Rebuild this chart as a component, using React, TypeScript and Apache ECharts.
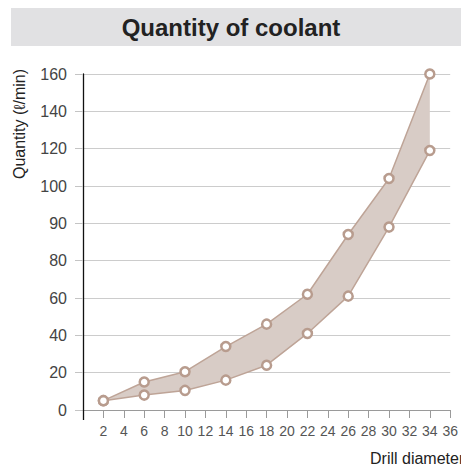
import React, { useEffect, useRef } from "react";
import * as echarts from "echarts";

const drillDiameters = [2, 6, 10, 14, 18, 22, 26, 30, 34];
const upperQuantity = [5, 15, 20.5, 34, 46, 62, 87, 104, 160];
const lowerQuantity = [5, 8, 10.5, 16, 24, 41, 61, 89, 119];
const yTickLabels = [0, 20, 40, 60, 80, 90, 100, 120, 140, 160];

const titleText = "Quantity of coolant";
const yName = "Quantity (\u2113/min)";
const xName = "Drill diameter";

// map a displayed quantity onto the (evenly spaced) tick index scale
function toAxis(v: number): number {
  for (let i = 0; i < yTickLabels.length - 1; i++) {
    const a = yTickLabels[i];
    const b = yTickLabels[i + 1];
    if (v <= b || i === yTickLabels.length - 2) {
      return i + (v - a) / (b - a);
    }
  }
  return 0;
}

const FONT = "'Liberation Sans', Arial, sans-serif";
const LINE = "#bea497";
const FILL = "#d8ccc6";

export default function App() {
  const ref = useRef<HTMLDivElement>(null);
  useEffect(() => {
    if (!ref.current) return;
    const chart = echarts.init(ref.current, null, { renderer: "svg" });
    const upperPts = drillDiameters.map((x, i) => [x, toAxis(upperQuantity[i])]);
    const lowerPts = drillDiameters.map((x, i) => [x, toAxis(lowerQuantity[i])]);
    chart.setOption({
      animation: false,
      backgroundColor: "#ffffff",
      grid: { left: 83, right: 5, top: 74, bottom: 59, containLabel: false },
      graphic: [
        {
          type: "rect",
          shape: { x: 11, y: 8, width: 450, height: 38 },
          style: { fill: "#e1e1e3" },
          z: 0,
        },
        {
          type: "text",
          x: 231,
          y: 27,
          style: {
            text: titleText,
            font: `bold 24px ${FONT}`,
            fill: "#222222",
            textAlign: "center",
            textVerticalAlign: "middle",
          },
        },
        {
          type: "text",
          x: 19,
          y: 124,
          rotation: Math.PI / 2,
          style: {
            text: yName,
            font: `16px ${FONT}`,
            fill: "#222222",
            textAlign: "center",
            textVerticalAlign: "middle",
          },
        },
        {
          type: "text",
          x: 370,
          y: 458,
          style: {
            text: xName,
            font: `16px ${FONT}`,
            fill: "#222222",
            textAlign: "left",
            textVerticalAlign: "middle",
          },
        },
        {
          type: "line",
          shape: { x1: 83.5, y1: 410, x2: 83.5, y2: 420 },
          style: { stroke: "#111111", lineWidth: 1.3 },
          z: 10,
        },
      ],
      xAxis: {
        type: "value",
        min: 0,
        max: 36,
        interval: 2,
        axisLine: { onZero: false, lineStyle: { color: "#9a9a9a", width: 1 } },
        axisTick: { show: true, length: 8, lineStyle: { color: "#9a9a9a" } },
        splitLine: { show: false },
        axisLabel: {
          margin: 14,
          fontFamily: FONT,
          fontSize: 14,
          color: "#555555",
          formatter: (v: number) => (v === 0 ? "" : String(v)),
        },
      },
      yAxis: {
        type: "value",
        min: 0,
        max: yTickLabels.length - 1,
        interval: 1,
        axisLine: { show: true, lineStyle: { color: "#111111", width: 1.3 } },
        axisTick: { show: true, length: 8, lineStyle: { color: "#c4c4c4" } },
        splitLine: { show: true, lineStyle: { color: "#cccccc", width: 1 } },
        axisLabel: {
          margin: 16,
          fontFamily: FONT,
          fontSize: 16,
          color: "#444444",
          formatter: (v: number) => String(yTickLabels[Math.round(v)] ?? ""),
        },
      },
      series: [
        {
          type: "custom",
          data: [[0, 0]],
          z: 1,
          silent: true,
          renderItem: (_params: any, api: any) => {
            const pts = upperPts
              .concat(lowerPts.slice().reverse())
              .map((p) => api.coord(p));
            return {
              type: "polygon",
              shape: { points: pts },
              style: { fill: FILL, stroke: "none" },
            };
          },
        },
        {
          type: "line",
          data: lowerPts,
          z: 3,
          symbol: "circle",
          symbolSize: 9,
          showSymbol: true,
          lineStyle: { color: LINE, width: 1.5 },
          itemStyle: { color: "#ffffff", borderColor: "#b89c8e", borderWidth: 2.5 },
        },
        {
          type: "line",
          data: upperPts,
          z: 3,
          symbol: "circle",
          symbolSize: 9,
          showSymbol: true,
          lineStyle: { color: LINE, width: 1.5 },
          itemStyle: { color: "#ffffff", borderColor: "#b89c8e", borderWidth: 2.5 },
        },
      ],
    });
    return () => chart.dispose();
  }, []);
  return (
    <div
      ref={ref}
      style={{ position: "absolute", left: 0, top: 0, width: 461, height: 469 }}
    />
  );
}
